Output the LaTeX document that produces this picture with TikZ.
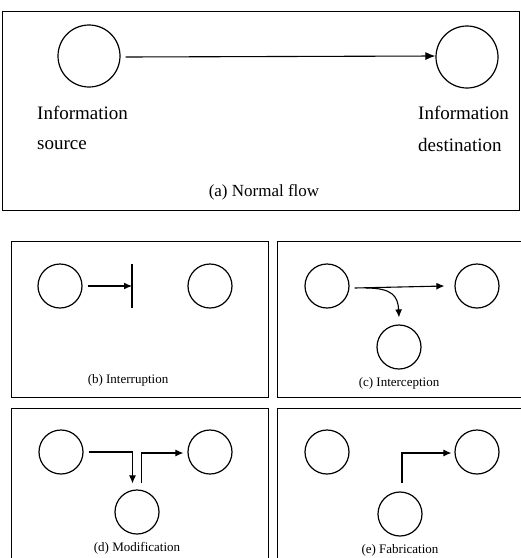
\documentclass[tikz,border=0pt]{standalone}
\usepackage{fontspec}
\setmainfont{Liberation Serif}
\usetikzlibrary{arrows.meta,calc}

\tikzset{
  frame/.style={line width=1pt},
  site/.style={circle,draw,line width=1.2pt,inner sep=0pt,minimum size=44pt},
  bigsite/.style={circle,draw,line width=1.2pt,inner sep=0pt,minimum size=62pt},
  flow/.style={line width=1.1pt,-{Latex[length=8pt,width=7pt]}},
  bigflow/.style={line width=1.1pt,-{Latex[length=10pt,width=8pt]}},
  biglabel/.style={inner sep=0pt,anchor=west,font=\fontsize{19}{21}\selectfont},
  bigcaption/.style={inner sep=0pt,font=\fontsize{17}{19}\selectfont},
  caption/.style={inner sep=0pt,font=\fontsize{13}{15}\selectfont},
}

\begin{document}
\begin{tikzpicture}[x=1pt,y=-1pt]
\useasboundingbox (0,0) rectangle (521,558);
\fill[white] (0,0) rectangle (521,558);

% ---- (a) normal flow ----
\draw[frame] (2,11) rectangle (519,210);
\node[bigsite] (asrc) at (89,56) {};
\node[bigsite] (adst) at (467,57) {};
\draw[bigflow] ([xshift=5pt,yshift=-1pt]asrc.east) -- (asrc.east -| adst.west);
\node[biglabel] (asrc1) at (37,113) {Information};
\node[biglabel] (asrc2) at (37,145) {source};
\node[biglabel] (adst1) at (418,113) {Information};
\node[biglabel] (adst2) at (418,145) {destination};
\node[bigcaption] (acap) at (264,192) {(a) Normal flow};

% ---- (b) interruption ----
\draw[frame] (11,241) rectangle (268,397);
\node[site] (bsrc) at (60,286) {};
\node[site] (bdst) at (210,286) {};
\coordinate (bcut) at (132,286);
\draw[flow] ([xshift=5pt]bsrc.east) -- (bcut);
\draw[line width=1.2pt] ([yshift=22pt]bcut) -- ([yshift=-22pt]bcut);
\node[caption] (bcap) at (128,380) {(b) Interruption};

% ---- (c) interception ----
\draw[frame] (521,241) -- (277,241) -- (277,397) -- (521,397);
\node[site] (csrc) at (327,286) {};
\node[site] (cdst) at (477,286) {};
\node[site] (ctap) at (399,347) {};
\draw[flow] ([xshift=5pt,yshift=-2pt]csrc.east) -- ([xshift=-10pt]csrc.east -| cdst.west);
\draw[flow] (366,288) .. controls (392,288) and (398,296) .. ([yshift=7pt]ctap.north);
\node[caption] (ccap) at (399,383) {(c) Interception};

% ---- (d) modification ----
\draw[frame] (11,558) -- (11,408) -- (268,408) -- (268,558);
\node[site] (dsrc) at (61,452) {};
\node[site] (ddst) at (210,452) {};
\node[site] (dmod) at (137,512) {};
\draw[flow] ([xshift=5pt]dsrc.east) -| ([xshift=-4.5pt,yshift=6pt]dmod.north);
\draw[flow] ([xshift=4.5pt,yshift=6pt]dmod.north) |- ([xshift=-4pt,yshift=-1pt]ddst.west);
\node[caption] (dcap) at (137,548) {(d) Modification};

% ---- (e) fabrication ----
\draw[frame] (521,408) -- (277,408) -- (277,558);
\node[site] (esrc) at (327,452) {};
\node[site] (edst) at (477,452) {};
\node[site] (efab) at (400,514) {};
\draw[flow] ([xshift=2pt,yshift=8pt]efab.north) |- ([xshift=-3pt,yshift=-1pt]edst.west);
\node[caption] (ecap) at (400,550) {(e) Fabrication};
\end{tikzpicture}
\end{document}
